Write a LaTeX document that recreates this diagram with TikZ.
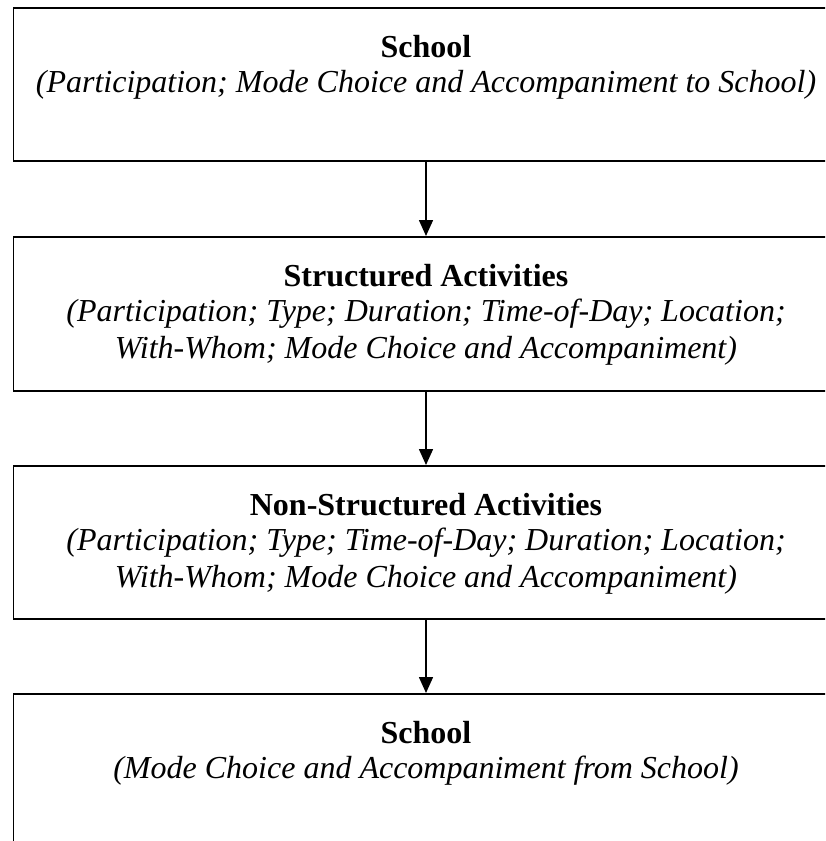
\documentclass[tikz,border=0pt]{standalone}
\usetikzlibrary{arrows.meta}
\usepackage{fontspec}
\setmainfont{Liberation Serif}
\begin{document}
\begin{tikzpicture}[x=1pt,y=-1pt,
  boxst/.style={draw,line width=1.6pt,rectangle,minimum width=827pt,inner sep=0pt,anchor=north west},
  titlest/.style={font=\fontsize{32}{43}\selectfont\bfseries,anchor=base,inner sep=0pt},
  subst/.style={font=\fontsize{32}{43}\selectfont\itshape,anchor=base,inner sep=0pt,align=center},
  arr/.style={line width=1.6pt,-{Triangle[length=16pt,width=14pt]}}]
\useasboundingbox (0,0) rectangle (825,841);
\clip (0,0) rectangle (825,841);
\node[boxst,minimum height=153pt] (b1) at (12.7,7) {};
\node[boxst,minimum height=154pt] (b2) at (12.7,236) {};
\node[boxst,minimum height=153pt] (b3) at (12.7,465) {};
\node[boxst,minimum height=200pt] (b4) at (12.7,693) {};
\node[titlest] (t1) at (426,57) {School};
\node[subst] (s1) at (426,92) {(Participation; Mode Choice and Accompaniment to School)};
\node[titlest] (t2) at (426,286) {Structured Activities};
\node[subst] (s2) at (426,321) {(Participation; Type; Duration; Time-of-Day; Location;};
\node[subst] (s2b) at (426,358) {With-Whom; Mode Choice and Accompaniment)};
\node[titlest] (t3) at (426,515) {Non-Structured Activities};
\node[subst] (s3) at (426,550) {(Participation; Type; Time-of-Day; Duration; Location;};
\node[subst] (s3b) at (426,587) {With-Whom; Mode Choice and Accompaniment)};
\node[titlest] (t4) at (426,743) {School};
\node[subst] (s4) at (426,778) {(Mode Choice and Accompaniment from School)};
\draw[arr] (b1.south -| t1) -- (b2.north -| t1);
\draw[arr] (b2.south -| t1) -- (b3.north -| t1);
\draw[arr] (b3.south -| t1) -- (b4.north -| t1);
\end{tikzpicture}
\end{document}
